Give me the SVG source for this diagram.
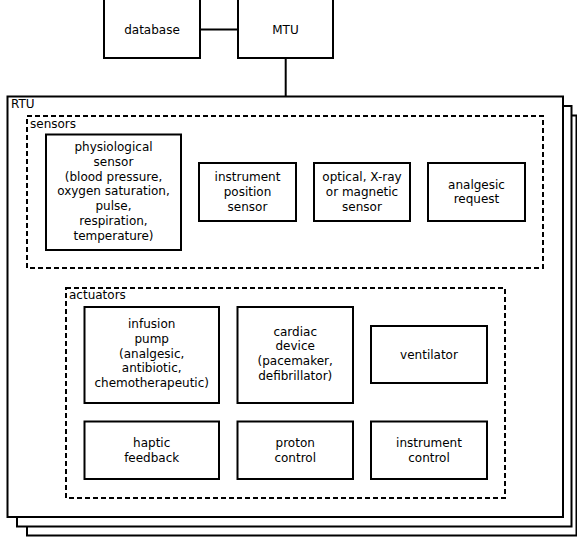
<svg xmlns="http://www.w3.org/2000/svg" width="577" height="537" viewBox="0 0 577 537">
<style>
.box{fill:#fff;stroke:#000;stroke-width:2}
.dash{fill:none;stroke:#000;stroke-width:2;stroke-dasharray:5,3}
.ln{fill:none;stroke:#000;stroke-width:2}
text{font-family:"DejaVu Sans",sans-serif;font-size:12px;fill:#000}
.c{text-anchor:middle}
</style>
<rect width="577" height="537" fill="#fff"/>
<g id="connectors">
<line class="ln" x1="200" y1="29.5" x2="238" y2="29.5"/>
<line class="ln" x1="285.7" y1="58" x2="285.7" y2="96.5"/>
</g>
<g id="rtu">
<rect class="box" x="27" y="115.5" width="549.5" height="420"/>
<rect class="box" x="17" y="106" width="554.5" height="420.5"/>
<rect class="box" x="7.5" y="96.5" width="555.5" height="420.5"/>
<text x="11" y="108">RTU</text>
</g>
<g id="database">
<rect class="box" x="104" y="-2" width="96" height="60"/>
<text class="c" x="152" y="34">database</text>
</g>
<g id="mtu">
<rect class="box" x="238" y="-2" width="95" height="60"/>
<text class="c" x="285.5" y="34">MTU</text>
</g>
<g id="sensors">
<rect class="dash" x="27" y="116" width="516" height="152"/>
<text x="30" y="128">sensors</text>
</g>
<g id="physiological">
<rect class="box" x="46" y="134.5" width="135" height="115.5"/>
<text class="c" x="113.5" y="151">physiological<tspan x="113.5" dy="14.8">sensor</tspan><tspan x="113.5" dy="14.8">(blood pressure,</tspan><tspan x="113.5" dy="14.8">oxygen saturation,</tspan><tspan x="113.5" dy="14.8">pulse,</tspan><tspan x="113.5" dy="14.8">respiration,</tspan><tspan x="113.5" dy="14.8">temperature)</tspan></text>
</g>
<g id="instrument-position">
<rect class="box" x="199" y="163" width="97" height="58"/>
<text class="c" x="247.5" y="181">instrument<tspan x="247.5" dy="14.8">position</tspan><tspan x="247.5" dy="14.8">sensor</tspan></text>
</g>
<g id="optical">
<rect class="box" x="314" y="163" width="96" height="58"/>
<text class="c" x="362" y="181">optical, X-ray<tspan x="362" dy="14.8">or magnetic</tspan><tspan x="362" dy="14.8">sensor</tspan></text>
</g>
<g id="analgesic">
<rect class="box" x="428" y="163" width="97" height="58"/>
<text class="c" x="476.5" y="188.5">analgesic<tspan x="476.5" dy="14.8">request</tspan></text>
</g>
<g id="actuators">
<rect class="dash" x="66" y="288" width="439" height="210"/>
<text x="69" y="299">actuators</text>
</g>
<g id="infusion">
<rect class="box" x="84.5" y="307" width="134.5" height="96"/>
<text class="c" x="151.7" y="328">infusion<tspan x="151.7" dy="14.8">pump</tspan><tspan x="151.7" dy="14.8">(analgesic,</tspan><tspan x="151.7" dy="14.8">antibiotic,</tspan><tspan x="151.7" dy="14.8">chemotherapeutic)</tspan></text>
</g>
<g id="cardiac">
<rect class="box" x="237.5" y="307" width="115.5" height="96"/>
<text class="c" x="295.2" y="335.5">cardiac<tspan x="295.2" dy="14.8">device</tspan><tspan x="295.2" dy="14.8">(pacemaker,</tspan><tspan x="295.2" dy="14.8">defibrillator)</tspan></text>
</g>
<g id="ventilator">
<rect class="box" x="371" y="326" width="116" height="57"/>
<text class="c" x="429" y="359">ventilator</text>
</g>
<g id="haptic">
<rect class="box" x="84.5" y="421.5" width="134.5" height="57.5"/>
<text class="c" x="151.7" y="447">haptic<tspan x="151.7" dy="14.8">feedback</tspan></text>
</g>
<g id="proton">
<rect class="box" x="237.5" y="421.5" width="115.5" height="57.5"/>
<text class="c" x="295.2" y="447">proton<tspan x="295.2" dy="14.8">control</tspan></text>
</g>
<g id="instrument-control">
<rect class="box" x="371" y="421.5" width="116" height="57.5"/>
<text class="c" x="429" y="447">instrument<tspan x="429" dy="14.8">control</tspan></text>
</g>
</svg>
